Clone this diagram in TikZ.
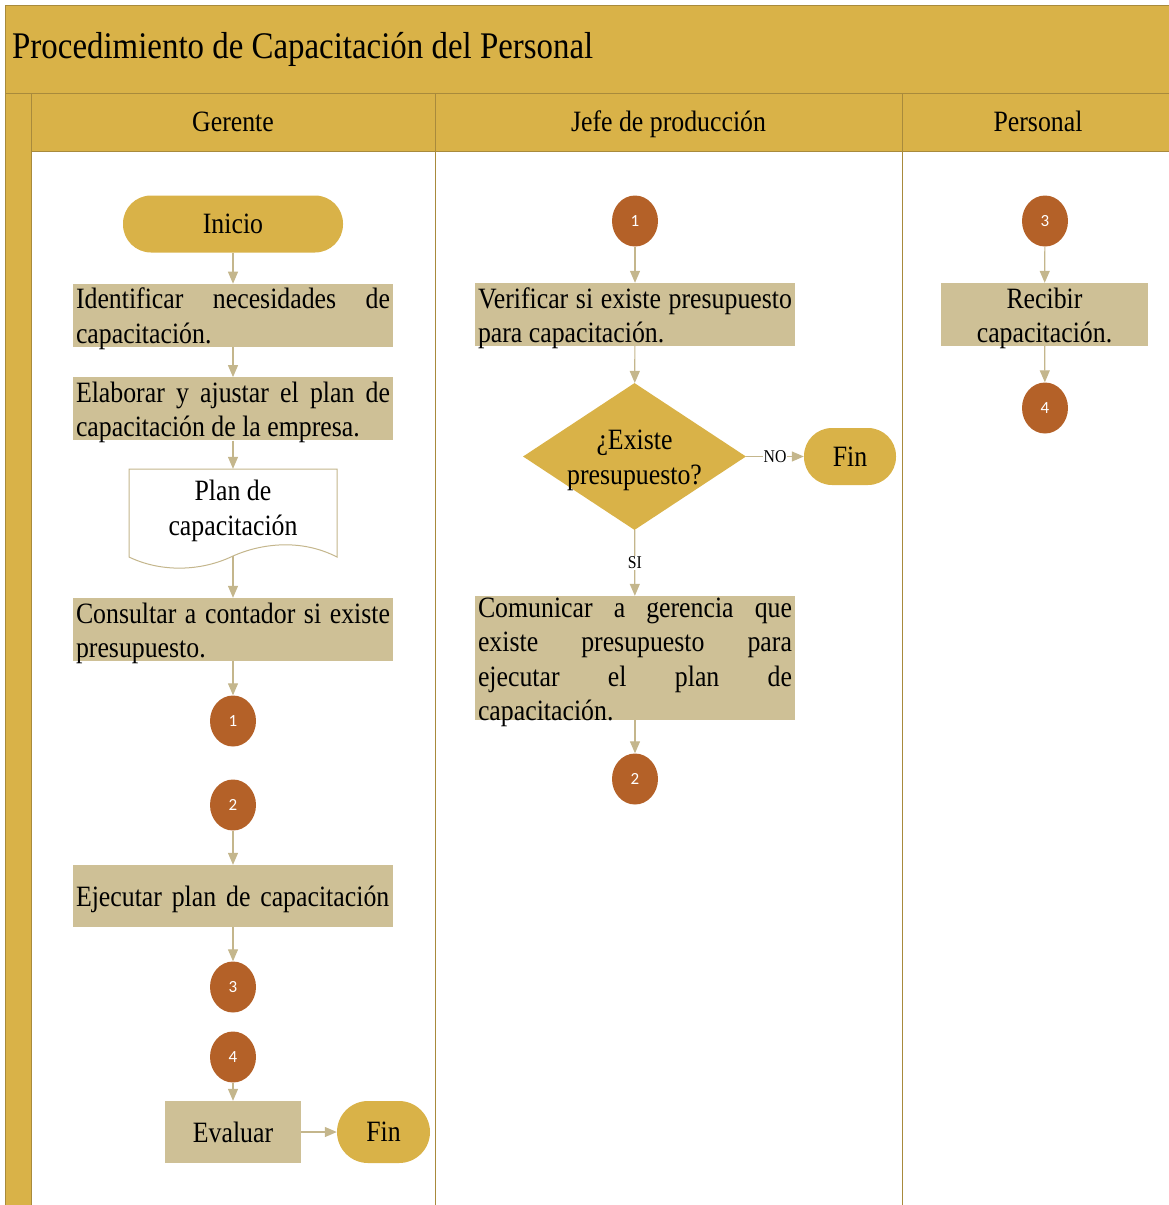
\documentclass[tikz,border=0pt]{standalone}
\usepackage{fontspec}
\setmainfont[FakeStretch=0.875]{Liberation Serif}
\newfontfamily\numfont{Carlito}
\usetikzlibrary{positioning,arrows.meta,shapes.geometric}
\definecolor{oro}{RGB}{217,178,72}
\definecolor{arena}{RGB}{206,192,150}
\definecolor{cobre}{RGB}{180,97,40}
\definecolor{flecha}{RGB}{196,182,140}
\definecolor{marco}{RGB}{168,138,60}

\begin{document}
\begin{tikzpicture}[x=1pt,y=-1pt,font=\fontsize{29.5}{34.5}\selectfont,
  proceso/.style={fill=arena,inner xsep=3pt,inner ysep=0pt,text width=314pt,text height=25pt,text depth=38pt,align=justify},
  unalinea/.style={text height=41pt,text depth=21pt},
  terminal/.style={fill=oro,rounded corners=28pt,minimum height=57pt,inner sep=2pt},
  conector/.style={ellipse,fill=cobre,text=white,inner sep=0pt,minimum width=46pt,minimum height=51pt,font=\numfont\fontsize{17}{19}\selectfont},
  decision/.style={diamond,fill=oro,inner sep=0pt,minimum width=223pt,minimum height=147pt},
  flujo/.style={draw=flecha,line width=1.2pt,-{Triangle[length=12pt,width=10pt]}},
  etiqueta/.style={fill=white,inner sep=1pt,font=\fontsize{18}{20}\selectfont},
  carril/.style={draw=marco,line width=1pt}]
\path[use as bounding box] (0,0) rectangle (1169,1205);
\clip (0,0) rectangle (1169,1205);
\fill[oro] (5,5) rectangle (1180,93);
\fill[oro] (5,93) rectangle (31,1215);
\fill[oro] (31,93) rectangle (1180,151);
\draw[carril] (5,1215) -- (5,5) -- (1180,5);
\draw[carril] (5,93) -- (1180,93);
\draw[carril] (31,151) -- (1180,151);
\draw[carril] (31,93) -- (31,1215);
\draw[carril] (435,93) -- (435,1215);
\draw[carril] (902,93) -- (902,1215);
\node[anchor=base west,inner sep=0pt,font=\fontsize{37.6}{42}\selectfont] (titulo) at (12,58) {Procedimiento de Capacitación del Personal};
\node[anchor=base] (gerente) at (233,131) {Gerente};
\node[anchor=base] (jefe) at (668.5,131) {Jefe de producción};
\node[anchor=base] (personal) at (1038,131) {Personal};

\node[terminal,minimum width=220pt] (inicio) at (233,224) {Inicio};
\node[proceso,below=31pt of inicio] (identificar) {Identificar necesidades de\linebreak capacitación.};
\node[proceso,below=30pt of identificar] (elaborar) {Elaborar y ajustar el plan de\linebreak capacitación de la empresa.};
\node[align=center,minimum width=207pt,minimum height=84pt,inner sep=0pt] (plan) at (233,511) {};
\draw[draw=flecha,line width=1pt,fill=white] (129,469) -- (337,469) -- (337,557) .. controls (300,538) and (260,544) .. (233,556) .. controls (200,572) and (160,572) .. (129,557) -- cycle;
\node[align=center,inner sep=0pt] (plantxt) at (plan) {Plan de\\capacitación};
\coordinate (planpie) at (233,556);
\node[proceso] (consultar) at (233,629.5) {Consultar a contador si existe\linebreak presupuesto.};
\node[conector] (g1) at (233,721) {1};
\node[conector] (g2) at (233,805) {2};
\node[proceso,unalinea,align=left] (ejecutar) at (233,896) {Ejecutar plan de capacitación};
\node[conector] (g3) at (233,987) {3};
\node[conector] (g4) at (233,1057) {4};
\node[proceso,unalinea,text width=130pt,align=center] (evaluar) at (233,1132) {Evaluar};
\node[terminal,minimum width=93pt,minimum height=62pt,rounded corners=31pt] (fin1) at (383.5,1132) {Fin};

\node[conector] (j1) at (635,221) {1};
\node[proceso] (verificar) at (635,314.5) {Verificar si existe presupuesto\linebreak para capacitación.};
\node[decision] (existe) at (634.5,456.5) {};
\node[align=center,inner sep=0pt] (existetxt) at ([yshift=-4pt]existe.center) {¿Existe\\presupuesto?};
\node[terminal,minimum width=92pt] (fin2) at (850,456.5) {Fin};
\node[proceso,text height=21pt,text depth=103pt] (comunicar) at (635,658) {Comunicar a gerencia que\linebreak existe presupuesto para\linebreak ejecutar el plan de\linebreak capacitación.};
\node[conector] (j2) at (635,779) {2};

\node[conector] (p3) at (1045,221) {3};
\node[proceso,text width=201pt,align=center] (recibir) at (1044.5,314.5) {Recibir\\capacitación.};
\node[conector] (p4) at (1045,408) {4};

\foreach \a/\b in {inicio/identificar,identificar/elaborar,elaborar/plan,planpie/consultar,consultar/g1,g2/ejecutar,ejecutar/g3,g4/evaluar,evaluar/fin1,j1/verificar,verificar/existe,comunicar/j2,p3/recibir,recibir/p4}
  \draw[flujo] (\a) -- (\b);
\draw[flujo] (existe) -- node[etiqueta]{NO} (fin2);
\draw[flujo] (existe) -- node[etiqueta]{SI} (comunicar);
\end{tikzpicture}
\end{document}
